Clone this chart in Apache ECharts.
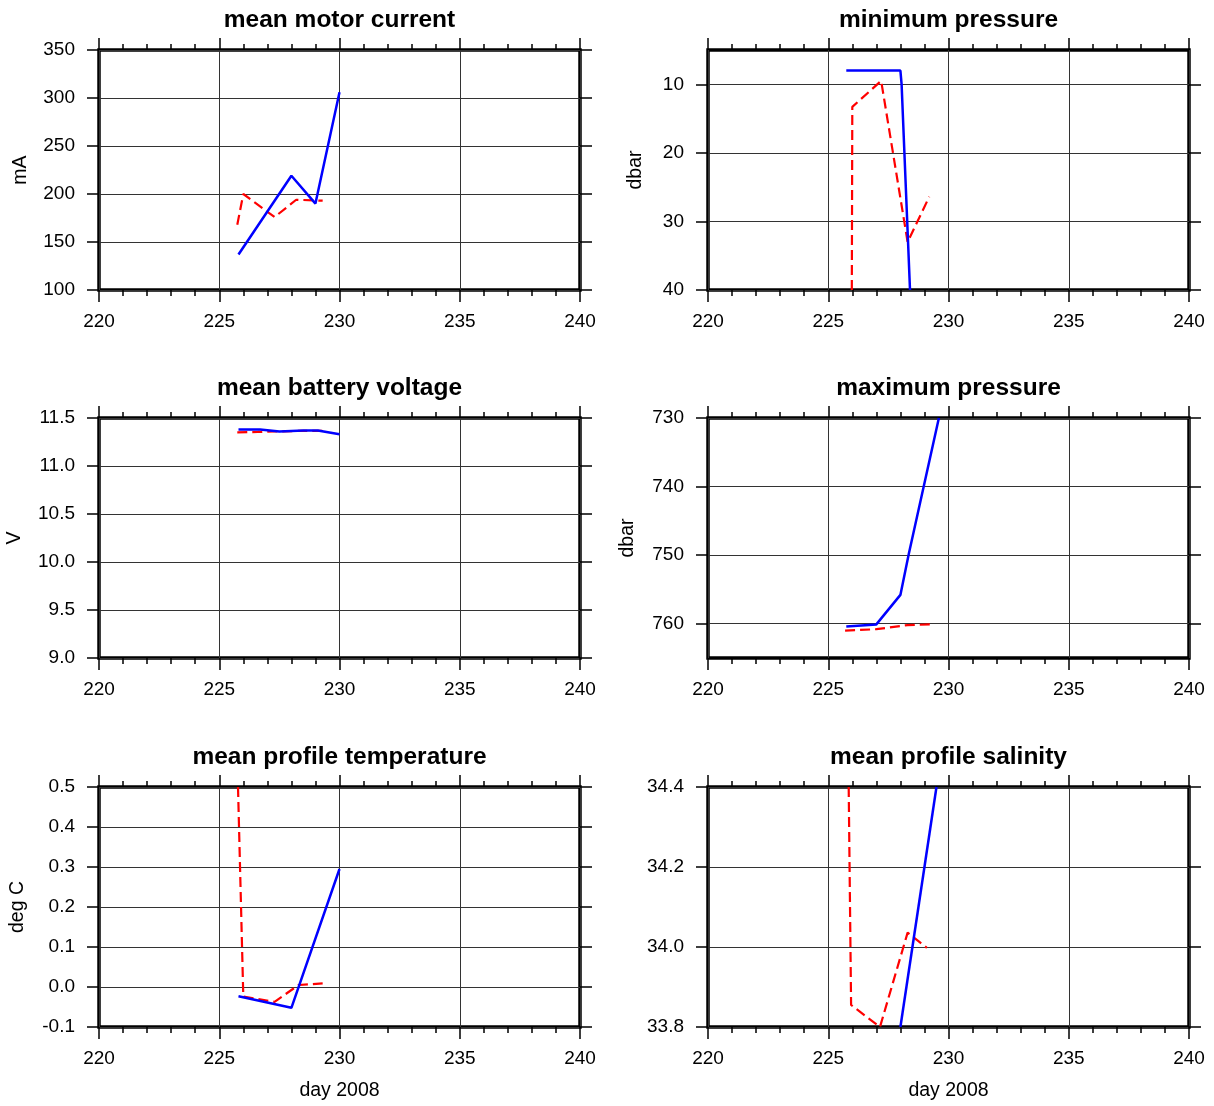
<!DOCTYPE html>
<html>
<head>
<meta charset="utf-8">
<title>float engineering data</title>
<script src="https://cdn.jsdelivr.net/npm/echarts@6/dist/echarts.min.js"></script>
<style>
  html, body { margin: 0; padding: 0; background: #fff; }
  #chart { width: 1214px; height: 1106px; }
</style>
</head>
<body>
<div id="chart"></div>
<script>
// ── Data (day of year 2008) ─────────────────────────────────────────────────

var dayTicks = [220, 225, 230, 235, 240];

// mean motor current (mA)
var motorBlueDay = [225.8, 228.0, 229.0, 230.0];
var motorBlueVal = [137, 219, 190, 306];
var motorRedDay  = [225.75, 226.0, 227.3, 228.2, 229.3];
var motorRedVal  = [168, 200, 176, 194, 193];

// minimum pressure (dbar)
var minpBlueDay = [225.75, 228.0, 228.05, 228.4];
var minpBlueVal = [8, 8, 10, 40];
var minpRedDay  = [225.98, 226.0, 227.2, 228.3, 229.2];
var minpRedVal  = [40, 13.3, 9.5, 33, 26.4];
var minpTicks   = [10, 20, 30, 40];

// mean battery voltage (V)
var voltBlueDay = [225.8, 226.7, 227.5, 228.5, 229.1, 230.0];
var voltBlueVal = [11.38, 11.38, 11.36, 11.37, 11.37, 11.33];
var voltRedDay  = [225.75, 226.6, 227.3, 228.3, 229.3];
var voltRedVal  = [11.35, 11.355, 11.36, 11.365, 11.365];

// maximum pressure (dbar)
var maxpBlueDay = [225.75, 227.0, 228.0, 228.35, 229.6];
var maxpBlueVal = [760.4, 760.1, 755.8, 749.8, 730];
var maxpRedDay  = [225.7, 227.0, 228.3, 229.3];
var maxpRedVal  = [761.0, 760.8, 760.2, 760.1];
var maxpTicks   = [730, 740, 750, 760];

// mean profile temperature (deg C)
var tempBlueDay = [225.8, 228.0, 230.0];
var tempBlueVal = [-0.023, -0.052, 0.295];
var tempRedDay  = [225.78, 226.0, 227.3, 228.3, 229.3];
var tempRedVal  = [0.5, -0.024, -0.037, 0.005, 0.009];

// mean profile salinity
var saltBlueDay = [228.0, 229.5];
var saltBlueVal = [33.8, 34.4];
var saltRedDay  = [225.85, 225.95, 227.15, 228.3, 229.1];
var saltRedVal  = [34.4, 33.855, 33.8, 34.036, 33.998];

// ── Panels ───────────────────────────────────────────────────────────────────

var FONT = '"Liberation Sans", Arial, Helvetica, sans-serif';
var INK = '#000';

function pairs(xs, ys) {
  return xs.map(function (x, i) { return [x, ys[i]]; });
}

var panels = [
  { title: 'mean motor current', name: 'mA', nameGap: 68, col: 0, row: 0,
    y: { min: 100, max: 350, interval: 50 },
    blue: pairs(motorBlueDay, motorBlueVal), red: pairs(motorRedDay, motorRedVal) },
  { title: 'minimum pressure', name: 'dbar', nameGap: 62, col: 1, row: 0,
    y: { min: 5, max: 40, inverse: true, custom: minpTicks },
    blue: pairs(minpBlueDay, minpBlueVal), red: pairs(minpRedDay, minpRedVal) },
  { title: 'mean battery voltage', name: 'V', nameGap: 74, col: 0, row: 1,
    y: { min: 9, max: 11.5, interval: 0.5, fmt: 1 },
    blue: pairs(voltBlueDay, voltBlueVal), red: pairs(voltRedDay, voltRedVal) },
  { title: 'maximum pressure', name: 'dbar', nameGap: 70, col: 1, row: 1,
    y: { min: 730, max: 765, inverse: true, custom: maxpTicks },
    blue: pairs(maxpBlueDay, maxpBlueVal), red: pairs(maxpRedDay, maxpRedVal) },
  { title: 'mean profile temperature', name: 'deg C', nameGap: 71, col: 0, row: 2, xName: 'day 2008',
    y: { min: -0.1, max: 0.5, interval: 0.1, fmt: 1 },
    blue: pairs(tempBlueDay, tempBlueVal), red: pairs(tempRedDay, tempRedVal) },
  { title: 'mean profile salinity', name: '', nameGap: 70, col: 1, row: 2, xName: 'day 2008',
    y: { min: 33.8, max: 34.4, interval: 0.2, fmt: 1 },
    blue: pairs(saltBlueDay, saltBlueVal), red: pairs(saltRedDay, saltRedVal) }
];

var colLeft = [99, 708];
var rowTop = [50, 418, 787];
var plotW = 481;
var plotH = 240;

var grids = [], xAxes = [], yAxes = [], series = [], titles = [];

panels.forEach(function (p, i) {
  var left = colLeft[p.col];
  var top = rowTop[p.row];

  grids.push({
    left: left, top: top, width: plotW, height: plotH,
    show: true, borderColor: INK, borderWidth: 3.5, backgroundColor: 'transparent'
  });

  // title box is centred on its left point; nudge to sit over the frame centre
  titles.push({
    text: p.title,
    left: left + plotW / 2 - 5,
    top: top - 47,
    textAlign: 'center',
    textStyle: { fontFamily: FONT, fontSize: 24.5, fontWeight: 'bold', color: INK }
  });

  ['bottom', 'top'].forEach(function (pos) {
    var main = pos === 'bottom';
    xAxes.push({
      gridIndex: i, type: 'value', position: pos,
      min: dayTicks[0], max: dayTicks[dayTicks.length - 1], interval: 5,
      name: main && p.xName ? p.xName : '',
      nameLocation: 'middle', nameGap: 54,
      nameTextStyle: { fontFamily: FONT, fontSize: 19.5, color: INK },
      axisLine: { show: false, onZero: false },
      axisTick: { show: true, length: 12, lineStyle: { color: INK, width: 1.5 } },
      minorTick: { show: true, splitNumber: 5, length: 6, lineStyle: { color: INK, width: 1.5 } },
      axisLabel: { show: main, margin: 22, fontFamily: FONT, fontSize: 19, color: INK },
      splitLine: { show: main, lineStyle: { color: '#333', width: 1 } },
      minorSplitLine: { show: false }
    });
  });

  ['left', 'right'].forEach(function (pos) {
    var main = pos === 'left';
    var ax = {
      gridIndex: i, type: 'value', position: pos,
      min: p.y.min, max: p.y.max, inverse: !!p.y.inverse,
      name: main ? p.name : '',
      nameLocation: 'middle', nameGap: p.nameGap,
      nameTextStyle: { fontFamily: FONT, fontSize: 19.5, color: INK },
      axisLine: { show: false, onZero: false },
      axisTick: { show: true, length: 12, lineStyle: { color: INK, width: 1.5 } },
      axisLabel: {
        show: main, margin: 24, fontFamily: FONT, fontSize: 19, color: INK,
        formatter: p.y.fmt ? function (v) { return v.toFixed(p.y.fmt); } : null
      },
      splitLine: { show: main, lineStyle: { color: '#333', width: 1 } }
    };
    if (p.y.custom) {
      ax.axisTick.customValues = p.y.custom;
      ax.axisLabel.customValues = p.y.custom;
    } else {
      ax.interval = p.y.interval;
    }
    yAxes.push(ax);
  });

  series.push({
    type: 'line', xAxisIndex: i * 2, yAxisIndex: i * 2,
    data: p.red, symbol: 'none', clip: true, z: 3,
    lineStyle: { color: '#ff0000', width: 2.2, type: [10, 5] }
  });
  series.push({
    type: 'line', xAxisIndex: i * 2, yAxisIndex: i * 2,
    data: p.blue, symbol: 'none', clip: true, z: 4,
    lineStyle: { color: '#0000ff', width: 2.5 }
  });
});

var chart = echarts.init(document.getElementById('chart'), null, { renderer: 'canvas' });
chart.setOption({
  backgroundColor: '#fff',
  animation: false,
  title: titles,
  grid: grids,
  xAxis: xAxes,
  yAxis: yAxes,
  series: series
});
</script>
</body>
</html>
